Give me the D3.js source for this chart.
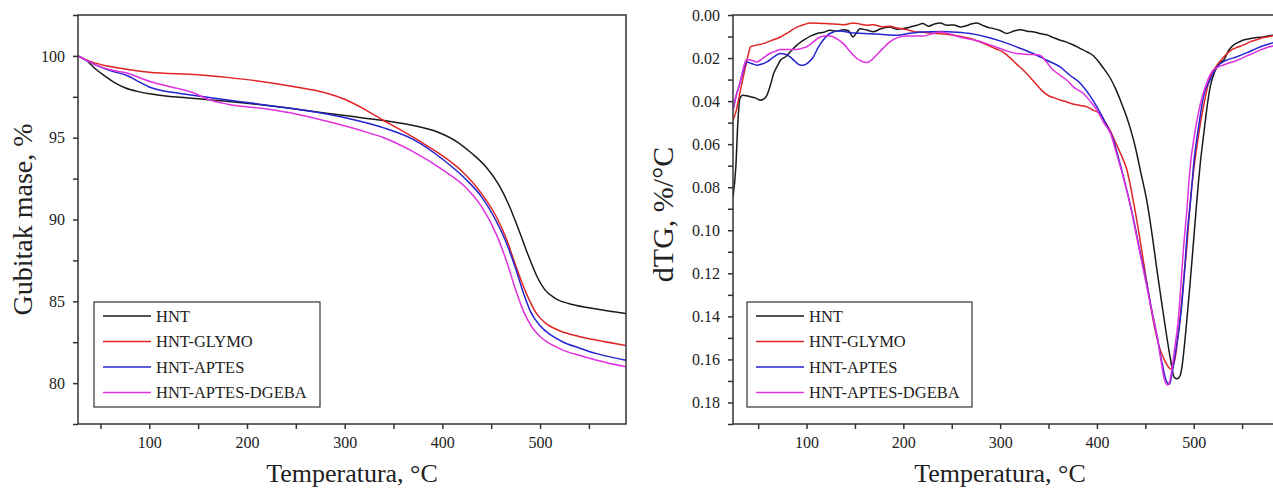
<!DOCTYPE html>
<html><head><meta charset="utf-8">
<script src="https://cdn.jsdelivr.net/npm/d3@7"></script>
<style>
html,body{margin:0;padding:0;background:#fff;}
svg{display:block;}
text{font-family:"Liberation Serif","Times New Roman",serif;fill:#222;}
</style></head>
<body>
<svg id="c" width="1273" height="490"></svg>
<script>
// ---------- DATA ----------
const seriesNames = ["HNT", "HNT-GLYMO", "HNT-APTES", "HNT-APTES-DGEBA"];
const seriesColors = ["#1a1a1a", "#e02424", "#2424d0", "#e030e0"];

const tgXTicks = [100, 200, 300, 400, 500];
const tgXMinor = [50, 150, 250, 350, 450, 550];
const tgYTicks = [80, 85, 90, 95, 100];
const tgYMinor = [77.5, 82.5, 87.5, 92.5, 97.5, 102.5];
const dtgYTicks = [0.00, 0.02, 0.04, 0.06, 0.08, 0.10, 0.12, 0.14, 0.16, 0.18];
const dtgYMinor = [0.01, 0.03, 0.05, 0.07, 0.09, 0.11, 0.13, 0.15, 0.17, 0.19];

// TG curves: [temperature °C, mass %]
const tgHNT = [[27,100],[35,99.75],[45,99.2],[55,98.75],[65,98.35],[75,98.05],[90,97.8],[100,97.68],[125,97.5],[150,97.38],[200,97.1],[250,96.75],[300,96.35],[340,96.05],[370,95.75],[395,95.35],[415,94.75],[430,94.05],[445,93.2],[458,92.1],[468,90.9],[478,89.4],[488,87.8],[497,86.5],[505,85.7],[515,85.2],[530,84.85],[550,84.6],[570,84.4],[588,84.25]];
const tgGLYMO = [[27,100],[40,99.65],[60,99.35],[80,99.15],[100,99.0],[150,98.85],[200,98.55],[250,98.1],[280,97.75],[300,97.35],[320,96.75],[340,96.05],[355,95.55],[375,94.85],[400,93.9],[420,92.95],[440,91.6],[455,90.2],[465,88.9],[475,87.2],[483,85.9],[490,84.95],[497,84.2],[505,83.7],[520,83.2],[540,82.85],[560,82.6],[588,82.3]];
const tgAPTES = [[27,100],[45,99.45],[60,99.1],[77,98.8],[90,98.4],[100,98.1],[115,97.85],[130,97.72],[150,97.55],[180,97.3],[200,97.15],[250,96.75],[282,96.45],[316,96.0],[340,95.6],[370,94.9],[400,93.7],[425,92.4],[440,91.4],[456,89.8],[466,88.5],[475,87.0],[483,85.5],[490,84.4],[500,83.5],[512,82.9],[524,82.5],[540,82.15],[558,81.8],[588,81.4]];
const tgDGEBA = [[27,100],[45,99.45],[60,99.15],[77,98.95],[100,98.45],[115,98.2],[130,98.0],[145,97.75],[160,97.35],[180,97.05],[220,96.75],[250,96.45],[282,96.0],[316,95.45],[340,95.0],[370,94.15],[400,93.05],[425,91.9],[440,90.8],[456,89.0],[466,87.4],[475,85.7],[483,84.4],[492,83.4],[500,82.85],[512,82.35],[524,82.0],[540,81.7],[558,81.4],[588,81.0]];

// dTG curves: [temperature °C, %/°C]
const dtgHNT = [[24,0.0845],[27,0.07],[29,0.05],[31,0.039],[34,0.0373],[38,0.0375],[42,0.038],[47,0.0385],[52,0.0396],[56,0.039],[59,0.0373],[63,0.032],[66,0.0272],[70,0.0235],[73,0.021],[78,0.0195],[83,0.0172],[90,0.014],[97,0.0117],[104,0.0098],[111,0.0086],[118,0.008],[124,0.0071],[131,0.0075],[138,0.0068],[143,0.0072],[148,0.0102],[152,0.008],[155,0.0064],[162,0.007],[169,0.0078],[176,0.0065],[186,0.0056],[193,0.0066],[200,0.0063],[208,0.0055],[214,0.0048],[220,0.004],[226,0.0052],[232,0.0042],[238,0.0037],[245,0.0048],[252,0.0046],[259,0.0056],[265,0.005],[270,0.0042],[276,0.0037],[283,0.005],[288,0.0058],[293,0.0063],[300,0.0072],[307,0.0086],[314,0.0074],[321,0.0068],[328,0.0075],[335,0.0079],[341,0.0086],[348,0.0092],[355,0.0105],[362,0.0117],[368,0.0125],[375,0.0138],[383,0.0156],[390,0.0172],[396,0.0188],[402,0.0218],[408,0.0255],[414,0.0295],[420,0.035],[425,0.0405],[430,0.0465],[435,0.0535],[440,0.062],[445,0.0725],[452,0.0875],[457,0.102],[462,0.1185],[467,0.134],[472,0.149],[476,0.16],[480,0.1685],[483,0.169],[486,0.1675],[488,0.163],[492,0.146],[496,0.126],[500,0.104],[503,0.0875],[507,0.068],[510,0.0566],[514,0.042],[517,0.0334],[522,0.026],[527,0.0225],[531,0.021],[536,0.0165],[541,0.014],[547,0.0125],[552,0.0115],[558,0.011],[565,0.0105],[572,0.0102],[578,0.0096],[585,0.0092]];
const dtgGLYMO = [[24,0.0489],[27,0.045],[31,0.0364],[34,0.03],[37,0.024],[40,0.018],[42,0.0148],[48,0.014],[55,0.0133],[64,0.0118],[73,0.0102],[82,0.0078],[90,0.0056],[97,0.0045],[104,0.0037],[112,0.0038],[120,0.004],[128,0.0042],[138,0.0045],[143,0.0042],[148,0.0037],[155,0.0042],[162,0.0048],[169,0.0045],[178,0.0055],[186,0.0052],[193,0.006],[200,0.0065],[207,0.0072],[213,0.0079],[220,0.008],[230,0.0085],[241,0.0088],[252,0.0094],[262,0.0102],[270,0.011],[279,0.0125],[288,0.0142],[296,0.0158],[303,0.0172],[310,0.0198],[317,0.0228],[324,0.0257],[331,0.029],[338,0.0325],[344,0.0355],[350,0.0375],[356,0.0385],[362,0.0395],[369,0.0404],[376,0.0415],[383,0.042],[390,0.0427],[396,0.0442],[403,0.0458],[409,0.05],[414,0.054],[420,0.06],[426,0.066],[431,0.072],[437,0.085],[444,0.103],[450,0.12],[455,0.134],[460,0.146],[465,0.155],[469,0.1595],[473,0.163],[476,0.1645],[478,0.1635],[481,0.159],[484,0.148],[487,0.136],[489,0.126],[493,0.107],[496,0.089],[500,0.072],[503,0.062],[507,0.05],[512,0.038],[517,0.0288],[523,0.024],[531,0.0195],[538,0.0165],[545,0.015],[551,0.014],[558,0.0125],[565,0.0115],[572,0.0105],[578,0.01],[585,0.0093]];
const dtgAPTES = [[24,0.0442],[27,0.038],[31,0.0318],[34,0.027],[38,0.0218],[43,0.0225],[48.7,0.0233],[54,0.0228],[59,0.0218],[66,0.0195],[73,0.0179],[78,0.0182],[83,0.0195],[88,0.0215],[93,0.0232],[97,0.0233],[102,0.022],[107,0.0195],[112,0.015],[117,0.0117],[124,0.0086],[134,0.0074],[145,0.0082],[159,0.0086],[176,0.009],[193,0.0094],[207,0.0085],[220,0.0079],[240,0.0077],[255,0.008],[269,0.0086],[286,0.0102],[303,0.0125],[318,0.015],[334,0.0179],[348,0.021],[362,0.0241],[372,0.028],[383,0.0318],[392,0.037],[400,0.0427],[408,0.0495],[417,0.058],[421,0.0643],[429,0.078],[438,0.0953],[445,0.111],[452,0.126],[457,0.138],[462,0.149],[467,0.161],[472,0.1703],[475,0.1715],[477,0.168],[481,0.157],[486,0.1417],[490,0.122],[493,0.103],[497,0.085],[500,0.069],[505,0.052],[510,0.038],[517,0.03],[524,0.0241],[534,0.021],[544,0.0195],[555,0.0175],[565,0.0155],[575,0.0138],[585,0.0125]];
const dtgDGEBA = [[24,0.0442],[27,0.038],[31,0.0318],[34,0.026],[38,0.0207],[43,0.021],[48.7,0.0218],[55,0.02],[62,0.0179],[68,0.0168],[73,0.016],[82,0.016],[90,0.016],[95,0.0155],[100,0.0148],[107,0.0125],[114,0.0102],[119,0.0098],[124,0.0098],[131,0.011],[138,0.0133],[145,0.017],[152,0.0202],[157,0.0215],[162,0.0221],[167,0.021],[172,0.0187],[179,0.0155],[186,0.0125],[194,0.0105],[203,0.0098],[212,0.0098],[220,0.0098],[229,0.0088],[238,0.0079],[248,0.0088],[258,0.0102],[272,0.0115],[286,0.0133],[300,0.0156],[309,0.017],[317,0.0179],[330,0.0183],[341,0.0187],[348,0.022],[355,0.0257],[362,0.028],[369,0.0303],[376,0.0335],[386,0.0365],[393,0.04],[400,0.0442],[407,0.05],[414,0.055],[420,0.064],[427,0.075],[434,0.0875],[441,0.103],[448,0.1185],[455,0.134],[462,0.149],[466,0.16],[469,0.168],[473,0.1719],[475,0.1705],[477,0.166],[480,0.156],[484,0.1417],[487,0.124],[489,0.111],[493,0.09],[496,0.072],[501,0.055],[507,0.041],[513,0.032],[520,0.0257],[532,0.023],[545,0.021],[555,0.019],[565,0.017],[575,0.0152],[585,0.014]];

const tgSeries = [tgHNT, tgGLYMO, tgAPTES, tgDGEBA];
const dtgSeries = [dtgHNT, dtgGLYMO, dtgAPTES, dtgDGEBA];

// ---------- DRAW ----------
const svg = d3.select("#c");
const AX = "#333";

function panel(opt) {
  const {id, x0, x1, y0, y1, xDomain, yDomain, yTicks, yMinor, yFmt, series, yTitle, yTitleX, curve, legend} = opt;
  const x = d3.scaleLinear().domain(xDomain).range([x0, x1]);
  const y = d3.scaleLinear().domain(yDomain).range([y1, y0]);
  const g = svg.append("g");

  g.append("clipPath").attr("id", "clip" + id)
    .append("rect").attr("x", x0).attr("y", y0).attr("width", x1 - x0).attr("height", y1 - y0);

  const line = d3.line().x(d => x(d[0])).y(d => y(d[1])).curve(curve);
  const lines = g.append("g").attr("clip-path", `url(#clip${id})`);
  series.forEach((s, i) => {
    lines.append("path").datum(s).attr("d", line)
      .attr("fill", "none").attr("stroke", seriesColors[i]).attr("stroke-width", 1.5)
      .attr("stroke-linejoin", "round");
  });

  // frame
  g.append("rect").attr("x", x0).attr("y", y0).attr("width", x1 - x0).attr("height", y1 - y0)
    .attr("fill", "none").attr("stroke", AX).attr("stroke-width", 1.5);

  // axes
  const xa = g.append("g").attr("transform", `translate(0,${y1})`)
    .call(d3.axisBottom(x).tickValues(tgXTicks).tickSize(5).tickSizeOuter(0).tickPadding(8).tickFormat(d3.format("d")));
  const xm = g.append("g").attr("transform", `translate(0,${y1})`)
    .call(d3.axisBottom(x).tickValues(tgXMinor).tickSize(5).tickSizeOuter(0).tickFormat(""));
  const ya = g.append("g").attr("transform", `translate(${x0},0)`)
    .call(d3.axisLeft(y).tickValues(yTicks).tickSize(5).tickSizeOuter(0).tickPadding(8).tickFormat(yFmt));
  const ym = g.append("g").attr("transform", `translate(${x0},0)`)
    .call(d3.axisLeft(y).tickValues(yMinor).tickSize(5).tickSizeOuter(0).tickFormat(""));
  [xa, xm, ya, ym].forEach(a => {
    a.select(".domain").remove();
    a.selectAll("line").attr("stroke", AX).attr("stroke-width", 1.5);
    a.selectAll("text").attr("font-family", "Liberation Serif").attr("font-size", 16).attr("fill", "#333");
  });

  // titles
  g.append("text").attr("x", opt.xTitleX).attr("y", 482)
    .attr("text-anchor", "middle").attr("font-size", 26).text("Temperatura, °C");
  g.append("text").attr("transform", `translate(${yTitleX},${(y0 + y1) / 2 + opt.yTitleDy}) rotate(-90)`)
    .attr("text-anchor", "middle").attr("font-size", opt.yTitleSize).text(yTitle);

  // legend
  const L = legend;
  const lg = g.append("g");
  lg.append("rect").attr("x", L.x).attr("y", L.y).attr("width", L.w).attr("height", L.h)
    .attr("fill", "#fff").attr("stroke", AX).attr("stroke-width", 1.2);
  seriesNames.forEach((n, i) => {
    const yy = L.y + 14 + i * 25.5;
    lg.append("line").attr("x1", L.x + 9).attr("x2", L.x + 57).attr("y1", yy).attr("y2", yy)
      .attr("stroke", seriesColors[i]).attr("stroke-width", 1.5);
    lg.append("text").attr("x", L.x + 62).attr("y", yy + 5.5).attr("font-size", 16.5).attr("fill", "#222").text(n);
  });
}

panel({
  id: "L", x0: 78, x1: 626, y0: 15, y1: 424,
  xDomain: [27, 588], yDomain: [77.5, 102.5],
  yTicks: tgYTicks, yMinor: tgYMinor, yFmt: d3.format("d"),
  series: tgSeries, yTitle: "Gubitak mase, %", yTitleX: 32, yTitleDy: 0, yTitleSize: 28,
  xTitleX: 352,
  curve: d3.curveMonotoneX,
  legend: {x: 94, y: 302, w: 226, h: 105}
});

panel({
  id: "R", x0: 733, x1: 1276, y0: 15, y1: 424,
  xDomain: [24, 585], yDomain: [0.19, 0],
  yTicks: dtgYTicks, yMinor: dtgYMinor, yFmt: d3.format(".2f"),
  series: dtgSeries, yTitle: "dTG, %/°C", yTitleX: 673, yTitleDy: -5, yTitleSize: 30,
  xTitleX: 1000,
  curve: d3.curveMonotoneX,
  legend: {x: 747, y: 302, w: 225, h: 105}
});
</script>
</body></html>
